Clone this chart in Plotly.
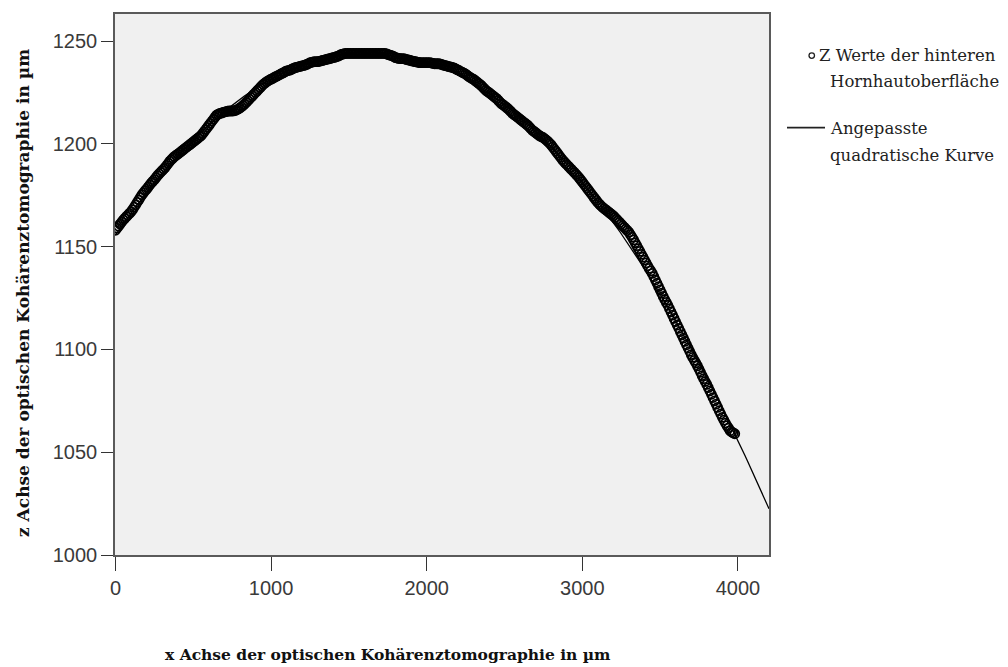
import numpy as np
import plotly.graph_objects as go

# x positions of the measured points (µm)
x_um = list(range(0, 3990, 10))
# z values of the posterior corneal surface (µm)
z_um = [
    1158.0, 1159.0, 1160.0, 1161.0, 1162.0, 1163.0, 1163.8, 1164.6, 1165.4, 1166.2,
    1167.0, 1168.0, 1169.2, 1170.4, 1171.6, 1172.8, 1174.0, 1175.2, 1176.2, 1177.2,
    1178.0, 1179.0, 1180.0, 1181.0, 1181.8, 1182.6, 1183.6, 1184.6, 1185.4, 1186.2,
    1187.0, 1187.8, 1188.6, 1189.6, 1190.6, 1191.6, 1192.4, 1193.2, 1193.9, 1194.5,
    1195.0, 1195.6, 1196.2, 1196.8, 1197.4, 1198.0, 1198.6, 1199.2, 1199.8, 1200.4,
    1201.0, 1201.6, 1202.2, 1202.8, 1203.4, 1204.0, 1205.0, 1206.0, 1207.0, 1208.0,
    1209.0, 1210.0, 1211.0, 1212.0, 1213.0, 1214.0, 1214.5, 1214.8, 1215.0, 1215.3,
    1215.5, 1215.7, 1215.9, 1216.0, 1216.0, 1216.0, 1216.1, 1216.3, 1216.6, 1217.0,
    1217.5, 1218.1, 1218.7, 1219.4, 1220.2, 1221.0, 1221.8, 1222.6, 1223.4, 1224.2,
    1225.0, 1225.8, 1226.6, 1227.4, 1228.2, 1229.0, 1229.6, 1230.2, 1230.7, 1231.1,
    1231.5, 1231.9, 1232.3, 1232.7, 1233.1, 1233.5, 1233.9, 1234.3, 1234.7, 1235.1,
    1235.5, 1235.7, 1235.9, 1236.2, 1236.6, 1237.0, 1237.2, 1237.4, 1237.6, 1237.8,
    1238.0, 1238.2, 1238.4, 1238.7, 1239.1, 1239.5, 1239.7, 1239.9, 1240.0, 1240.0,
    1240.0, 1240.2, 1240.4, 1240.6, 1240.8, 1241.0, 1241.2, 1241.4, 1241.6, 1241.8,
    1242.0, 1242.2, 1242.4, 1242.7, 1243.1, 1243.5, 1243.7, 1243.9, 1244.0, 1244.0,
    1244.0, 1244.0, 1244.0, 1244.0, 1244.0, 1244.0, 1244.0, 1244.0, 1244.0, 1244.0,
    1244.0, 1244.0, 1244.0, 1244.0, 1244.0, 1244.0, 1244.0, 1244.0, 1244.0, 1244.0,
    1244.0, 1244.0, 1244.0, 1244.0, 1243.9, 1243.5, 1243.3, 1243.1, 1242.8, 1242.4,
    1242.0, 1241.8, 1241.6, 1241.5, 1241.5, 1241.5, 1241.3, 1241.1, 1240.9, 1240.7,
    1240.5, 1240.3, 1240.1, 1240.0, 1239.8, 1239.6, 1239.5, 1239.5, 1239.5, 1239.5,
    1239.5, 1239.5, 1239.5, 1239.4, 1239.2, 1239.0, 1239.0, 1239.0, 1239.0, 1238.8,
    1238.5, 1238.3, 1238.1, 1237.9, 1237.7, 1237.5, 1237.3, 1237.1, 1236.8, 1236.4,
    1236.0, 1235.6, 1235.2, 1234.8, 1234.4, 1234.0, 1233.4, 1232.8, 1232.3, 1231.9,
    1231.5, 1230.9, 1230.3, 1229.7, 1229.1, 1228.5, 1227.7, 1226.9, 1226.1, 1225.5,
    1225.0, 1224.4, 1223.8, 1223.2, 1222.6, 1222.0, 1221.2, 1220.4, 1219.6, 1219.1,
    1218.5, 1217.9, 1217.3, 1216.6, 1215.8, 1215.0, 1214.4, 1213.8, 1213.2, 1212.6,
    1212.0, 1211.4, 1210.8, 1210.2, 1209.6, 1209.0, 1208.2, 1207.4, 1206.6, 1206.1,
    1205.5, 1204.9, 1204.3, 1203.8, 1203.4, 1203.0, 1202.4, 1201.8, 1201.1, 1200.3,
    1199.5, 1198.5, 1197.5, 1196.5, 1195.5, 1194.5, 1193.5, 1192.5, 1191.6, 1190.8,
    1190.0, 1189.2, 1188.4, 1187.6, 1186.8, 1186.0, 1185.2, 1184.4, 1183.5, 1182.5,
    1181.5, 1180.5, 1179.5, 1178.5, 1177.5, 1176.5, 1175.5, 1174.5, 1173.5, 1172.5,
    1171.5, 1170.7, 1169.9, 1169.2, 1168.6, 1168.0, 1167.4, 1166.8, 1166.2, 1165.6,
    1165.0, 1164.2, 1163.4, 1162.6, 1161.8, 1161.0, 1160.2, 1159.4, 1158.6, 1157.8,
    1157.0, 1155.8, 1154.6, 1153.3, 1151.9, 1150.5, 1149.1, 1147.7, 1146.3, 1144.9,
    1143.5, 1142.1, 1140.7, 1139.4, 1138.2, 1137.0, 1135.4, 1133.8, 1132.2, 1130.6,
    1129.0, 1127.4, 1125.8, 1124.3, 1122.9, 1121.5, 1119.9, 1118.3, 1116.7, 1115.1,
    1113.5, 1111.9, 1110.3, 1108.7, 1107.1, 1105.5, 1103.9, 1102.3, 1100.7, 1099.1,
    1097.5, 1096.1, 1094.7, 1093.4, 1092.0, 1090.5, 1088.9, 1087.3, 1085.8, 1084.4,
    1083.0, 1081.4, 1079.8, 1078.2, 1076.6, 1075.0, 1073.4, 1071.8, 1070.2, 1068.6,
    1067.0, 1065.6, 1064.2, 1062.9, 1061.7, 1060.5, 1059.9, 1059.4, 1059.0,
]

x_range = [-3, 4200]
y_range = [1000, 1263.2]
x_ticks = [0, 1000, 2000, 3000, 4000]
y_ticks = [1000, 1050, 1100, 1150, 1200, 1250]

legend_lines_1 = ["Z Werte der hinteren", "Hornhautoberfläche"]
legend_lines_2 = ["Angepasste", "quadratische Kurve"]
x_title = "x Achse der optischen Kohärenztomographie in µm"
y_title = "z Achse der optischen Kohärenztomographie in µm"

# quadratic fit of the data (the "fitted quadratic curve")
coef = np.polyfit(np.array(x_um, float), np.array(z_um, float), 2)
x_fit = np.linspace(0, x_range[1], 300)
z_fit = np.polyval(coef, x_fit)

fig = go.Figure()
fig.add_trace(go.Scatter(
    x=x_um, y=z_um, mode="markers",
    marker=dict(symbol="circle-open", size=9, color="black",
                line=dict(width=1.8, color="black")),
    showlegend=False))
fig.add_trace(go.Scatter(
    x=x_fit, y=z_fit, mode="lines",
    line=dict(color="black", width=1.3), showlegend=False))

# page body adds an 8px offset; target plot area on screen: 115..769 x 12..555
OFF = 8
W, H = 1000, 659
L, R, T, B = 115, 769, 12, 555

fig.update_layout(
    width=W, height=H,
    margin=dict(l=L - OFF, r=W - (R - OFF), t=T - OFF, b=H - (B - OFF), pad=0),
    paper_bgcolor="white", plot_bgcolor="#f0f0f0",
    xaxis=dict(range=x_range, tickvals=x_ticks, showgrid=False, zeroline=False,
               showline=True, mirror=True, linecolor="#5a5a5a", linewidth=1.5,
               ticks="outside", ticklen=14, tickcolor="#333", tickwidth=1.2,
               tickfont=dict(family="Liberation Sans, Arial", size=20, color="#3a3a3a")),
    yaxis=dict(range=y_range, tickvals=y_ticks, showgrid=False, zeroline=False,
               showline=True, mirror=True, linecolor="#5a5a5a", linewidth=1.5,
               ticks="outside", ticklen=12, tickcolor="#333", tickwidth=1.2,
               tickfont=dict(family="Liberation Sans, Arial", size=20, color="#3a3a3a")),
)

# helpers: screen pixel -> paper (plot-area) fraction
def fx(p):
    return (p - L) / (R - L)

def fy(p):
    return (B - p) / (B - T)

SERIF = "DejaVu Serif"
LEG = 16.5
ann = [
    dict(x=fx(388), y=fy(655), text="<b>" + x_title + "</b>",
         font=dict(family=SERIF, size=15.5, color="#111"),
         xanchor="center", yanchor="middle"),
    dict(x=fx(23), y=fy(292), text="<b>" + y_title + "</b>", textangle=-90,
         font=dict(family=SERIF, size=17, color="#111"),
         xanchor="center", yanchor="middle"),
    dict(x=fx(817), y=fy(54), text=legend_lines_1[0],
         font=dict(family=SERIF, size=LEG, color="#222"),
         xanchor="left", yanchor="middle"),
    dict(x=fx(828), y=fy(80), text=legend_lines_1[1],
         font=dict(family=SERIF, size=LEG, color="#222"),
         xanchor="left", yanchor="middle"),
    dict(x=fx(828), y=fy(127), text=legend_lines_2[0],
         font=dict(family=SERIF, size=LEG, color="#222"),
         xanchor="left", yanchor="middle"),
    dict(x=fx(828), y=fy(154), text=legend_lines_2[1],
         font=dict(family=SERIF, size=LEG, color="#222"),
         xanchor="left", yanchor="middle"),
]
for a in ann:
    a.update(xref="paper", yref="paper", showarrow=False)
fig.update_layout(annotations=ann)

fig.add_shape(type="circle", xref="paper", yref="paper",
              x0=fx(809), x1=fx(814.5), y0=fy(56.5), y1=fy(51),
              line=dict(color="#222", width=1.3))
fig.add_shape(type="line", xref="paper", yref="paper",
              x0=fx(787), x1=fx(825), y0=fy(126), y1=fy(126),
              line=dict(color="#222", width=1.6))

fig.write_html("out.html")
